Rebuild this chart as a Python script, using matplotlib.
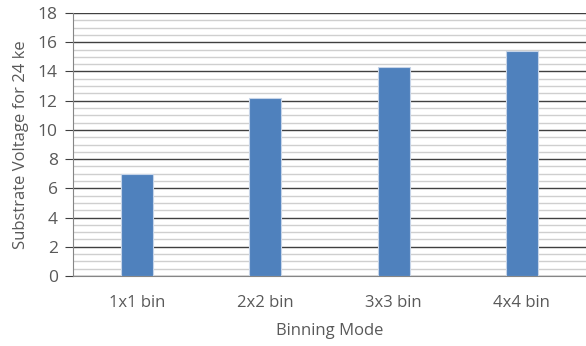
import matplotlib
matplotlib.use("Agg")
import matplotlib.pyplot as plt
from matplotlib.ticker import MultipleLocator

categories = ["1x1 bin", "2x2 bin", "3x3 bin", "4x4 bin"]
values = [7.0, 12.2, 14.3, 15.4]

plt.rcParams['font.family'] = ['Open Sans', 'DejaVu Sans']
txt = '#595959'

fig = plt.figure(figsize=(5.86, 3.46), dpi=100)
ax = fig.add_axes([73/586, 70/346, 513/586, 263/346])

x = range(len(categories))
ax.bar(x, values, width=0.25, color='#4F81BD', edgecolor='#C6D4E8', linewidth=0.8, zorder=3)

ax.set_xlim(-0.5, len(categories) - 0.5)
ax.set_ylim(0, 18)
ax.yaxis.set_major_locator(MultipleLocator(2))
ax.yaxis.set_minor_locator(MultipleLocator(0.5))
ax.grid(which='major', axis='y', color='#404040', linewidth=1.0, zorder=1)
ax.grid(which='minor', axis='y', color='#CFCFCF', linewidth=1.0, zorder=0)
ax.set_axisbelow(True)

ax.set_xticks(list(x))
ax.set_xticklabels(categories)
for s in ['top', 'right']:
    ax.spines[s].set_visible(False)
ax.spines['left'].set_color('#868686')
ax.spines['bottom'].set_color('#868686')
ax.tick_params(axis='y', which='major', length=6, color='#404040', labelsize=12.5, labelcolor=txt, pad=5)
ax.tick_params(axis='y', which='minor', length=0)
ax.tick_params(axis='x', length=0, labelsize=12, labelcolor=txt, pad=14)

ax.set_xlabel("Binning Mode", fontsize=12, color=txt, labelpad=8)
ax.set_ylabel("Substrate Voltage for 24 ke", fontsize=12, color=txt, labelpad=6)

fig.savefig("out.png", dpi=100)
